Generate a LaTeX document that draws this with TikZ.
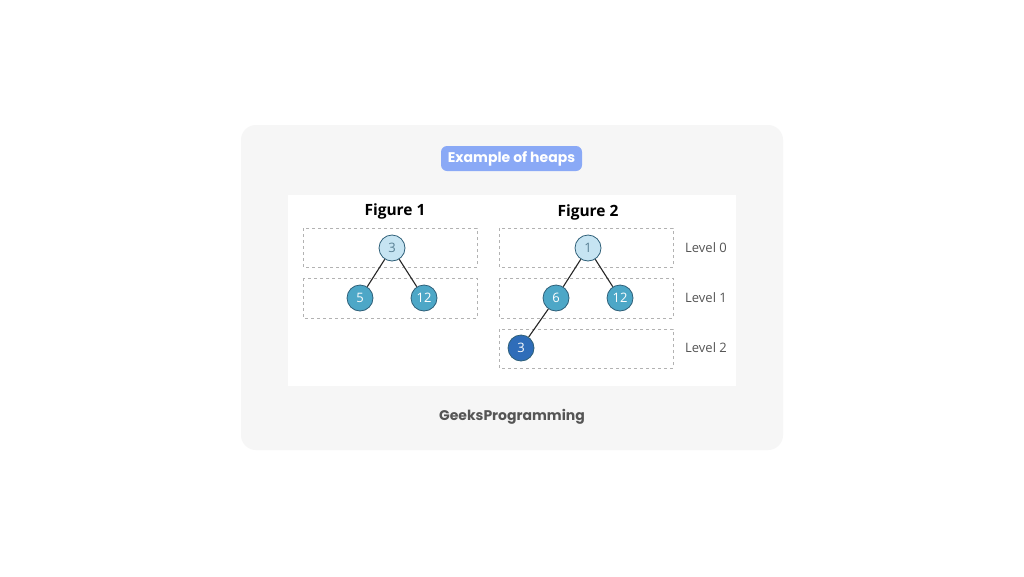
\documentclass[tikz,border=0pt]{standalone}
\usepackage{fontspec}
\setmainfont{Open Sans}
\newfontfamily\poppins{Poppins}
\definecolor{cardgray}{HTML}{F6F6F6}
\definecolor{pillblue}{HTML}{8AA9F6}
\definecolor{rootfill}{HTML}{C6E4F2}
\definecolor{midfill}{HTML}{4DA7C7}
\definecolor{deepfill}{HTML}{2F6DB9}
\definecolor{ringcol}{HTML}{2E5F78}
\definecolor{labelgray}{HTML}{555555}
\tikzset{
	heapnode/.style={circle,draw=ringcol,line width=0.8pt,minimum size=26pt,inner sep=0pt,font=\fontsize{13}{15}\selectfont},
	rootnode/.style={heapnode,fill=rootfill,text=ringcol!80},
	midnode/.style={heapnode,fill=midfill,text=white},
	deepnode/.style={heapnode,fill=deepfill,text=white},
	levelbox/.style={draw=gray!60,dashed,line width=0.6pt},
	levellabel/.style={text=labelgray,font=\fontsize{13}{15}\selectfont},
	figtitle/.style={font=\fontsize{15.5}{18}\selectfont\bfseries},
	treeedge/.style={line width=1.1pt,draw=black!85}
}
\begin{document}
\begin{tikzpicture}[x=1pt,y=-1pt]
	\useasboundingbox[fill=white] (0,0) rectangle (1024,576);
	\fill[cardgray,rounded corners=15pt] (241,125) rectangle (783,450);
	\node[fill=pillblue,rounded corners=6pt,minimum width=141pt,minimum height=25pt,text=white,font=\poppins\bfseries\fontsize{14}{17}\selectfont] (title) at (511.5,158.5) {Example of heaps};
	\fill[white] (288,195) rectangle (736,386);
	\node[figtitle] (f1) at (395,211.5) {Figure 1};
	\node[figtitle] (f2) at (588,212.5) {Figure 2};
	\draw[levelbox] (303,228) rectangle (477,267);
	\draw[levelbox] (303,278) rectangle (477,318);
	\draw[levelbox] (499,228) rectangle (673,267);
	\draw[levelbox] (499,278) rectangle (673,318);
	\draw[levelbox] (499,329) rectangle (673,368);
	\node[rootnode] (a) at (392,248) {3};
	\node[midnode] (b) at (360,298) {5};
	\node[midnode] (c) at (424,298) {12};
	\draw[treeedge] (a) -- (b);
	\draw[treeedge] (a) -- (c);
	\node[rootnode] (p) at (588,248) {1};
	\node[midnode] (q) at (556,298) {6};
	\node[midnode] (r) at (620,298) {12};
	\node[deepnode] (s) at (521,348) {3};
	\draw[treeedge] (p) -- (q);
	\draw[treeedge] (p) -- (r);
	\draw[treeedge] (q) -- (s);
	\node[levellabel] (l0) at (706,248) {Level 0};
	\node[levellabel] (l1) at (706,298) {Level 1};
	\node[levellabel] (l2) at (706,348) {Level 2};
	\node[text=labelgray,font=\poppins\bfseries\fontsize{14}{17}\selectfont] (brand) at (512,416.5) {GeeksProgramming};
\end{tikzpicture}
\end{document}
